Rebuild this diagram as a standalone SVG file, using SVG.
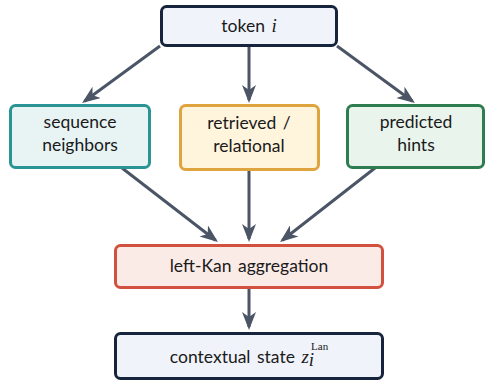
<svg xmlns="http://www.w3.org/2000/svg" width="486" height="381" viewBox="0 0 486 381">
  <defs>
    <marker id="ah" viewBox="0 0 18 14" markerWidth="18" markerHeight="14" refX="15" refY="7" orient="auto" markerUnits="userSpaceOnUse">
      <path d="M0,0 L18,7 L0,14 L5,7 z" fill="#4b5565"/>
    </marker>
  </defs>
  <style>
    .box { stroke-width: 3; }
    .lbl { font-family: Lato, "Open Sans", "Liberation Sans", sans-serif; font-size: 17.5px; fill: #1a1a1a; text-anchor: middle; word-spacing: 2px; }
    .math { font-family: "Liberation Serif", "DejaVu Serif", serif; font-style: italic; font-size: 19px; }
    .rm { font-family: "Liberation Serif", "DejaVu Serif", serif; font-style: normal; }
    .edge { stroke: #4b5565; stroke-width: 3; fill: none; marker-end: url(#ah); }
  </style>
  <g id="connectors">
    <line class="edge" x1="160" y1="46" x2="84.5" y2="101.2"/>
    <line class="edge" x1="249" y1="46" x2="249" y2="100"/>
    <line class="edge" x1="337" y1="46" x2="412.5" y2="101.2"/>
    <line class="edge" x1="122" y1="168" x2="215.6" y2="240.2"/>
    <line class="edge" x1="249" y1="170" x2="249" y2="239"/>
    <line class="edge" x1="375" y1="168" x2="282.4" y2="240.2"/>
    <line class="edge" x1="249" y1="288" x2="249" y2="327"/>
  </g>
  <g id="token">
    <rect class="box" x="161.5" y="6.5" width="175" height="39" rx="5" fill="#f0f4fa" stroke="#16243d"/>
    <text class="lbl" x="249" y="32">token <tspan class="math">i</tspan></text>
  </g>
  <g id="sequence">
    <rect class="box" x="10.5" y="105.5" width="139" height="62" rx="5" fill="#e8f4f4" stroke="#2a9393"/>
    <text class="lbl" x="80" y="128">sequence</text>
    <text class="lbl" x="80" y="151">neighbors</text>
  </g>
  <g id="retrieved">
    <rect class="box" x="180.5" y="105.5" width="138" height="64" rx="5" fill="#fff4dc" stroke="#e0a43e"/>
    <text class="lbl" x="249" y="129">retrieved /</text>
    <text class="lbl" x="249" y="152">relational</text>
  </g>
  <g id="predicted">
    <rect class="box" x="347.5" y="105.5" width="136" height="62" rx="5" fill="#e9f4ec" stroke="#2e7d4e"/>
    <text class="lbl" x="416" y="128">predicted</text>
    <text class="lbl" x="416" y="151">hints</text>
  </g>
  <g id="leftkan">
    <rect class="box" x="115.5" y="245.5" width="267" height="42" rx="5" fill="#fbebe7" stroke="#d2503e"/>
    <text class="lbl" x="249" y="272">left-Kan aggregation</text>
  </g>
  <g id="contextual">
    <rect class="box" x="115.5" y="333.5" width="267" height="45" rx="5" fill="#f0f4fa" stroke="#16243d"/>
    <text class="lbl" x="249" y="363">contextual state <tspan class="math">z</tspan><tspan class="math" font-size="11" dy="3">i</tspan><tspan class="rm" font-size="11" dx="-3" dy="-16">Lan</tspan></text>
  </g>
</svg>
